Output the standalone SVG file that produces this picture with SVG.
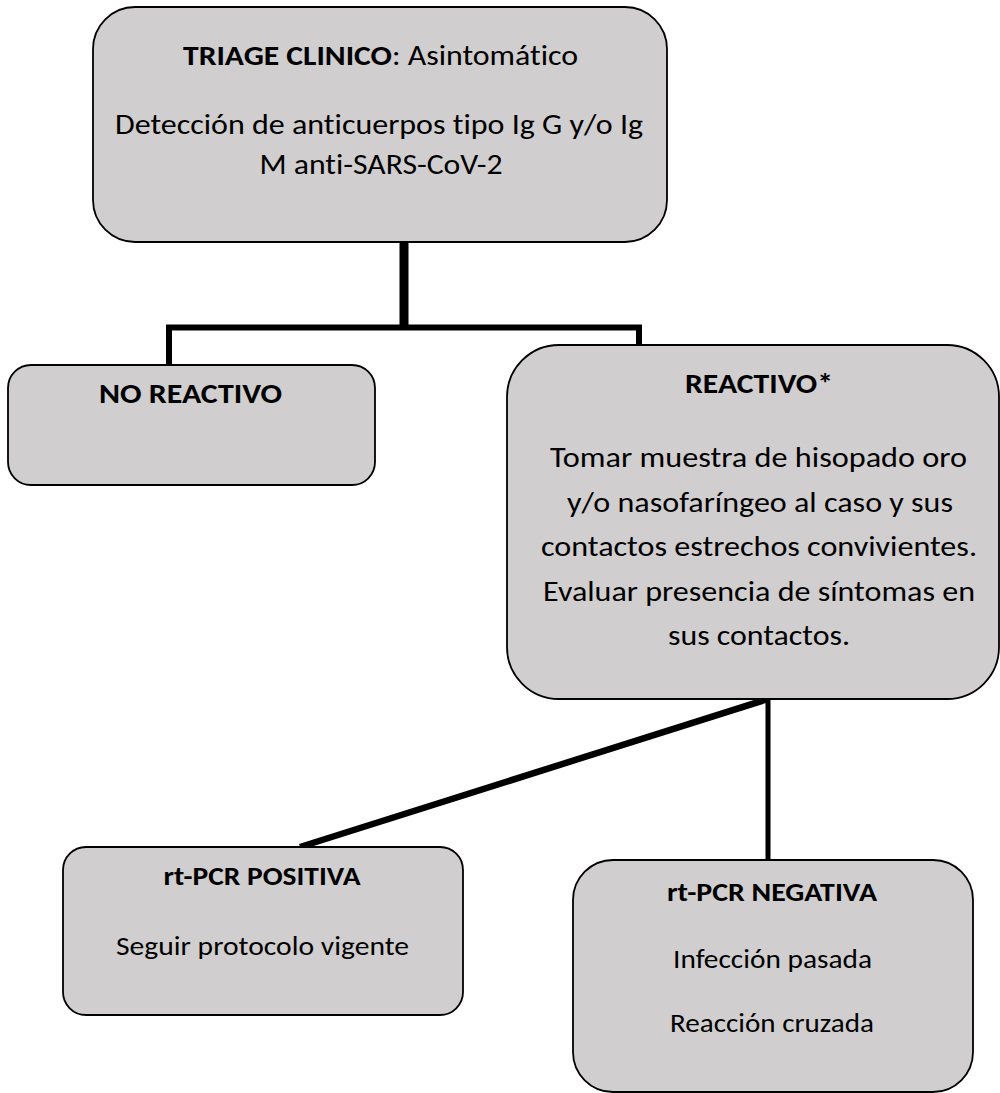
<svg xmlns="http://www.w3.org/2000/svg" width="1000" height="1093" viewBox="0 0 1000 1093">
  <style>
    .box { fill: #D0CECE; stroke: #000; stroke-width: 1.8; }
    .t { font-family: Carlito, Lato, "Liberation Sans", sans-serif; fill: #000; font-variant-ligatures: none; }
    .big { font-size: 28.4px; }
    .small { font-size: 26.2px; }
    .b { font-weight: bold; }
    .c { text-anchor: middle; }
    .conn { fill: none; stroke: #000; stroke-linecap: butt; stroke-linejoin: miter; }
  </style>
  <rect x="0" y="0" width="1000" height="1093" fill="#FFFFFF"/>

  <g id="connectors">
    <line class="conn" x1="404" y1="242" x2="404" y2="330" stroke-width="9"/>
    <polyline class="conn" points="169,365 169,327.5 639,327.5 639,345" stroke-width="6"/>
    <line class="conn" x1="768" y1="699" x2="300" y2="847" stroke-width="6.5"/>
    <line class="conn" x1="768" y1="699" x2="768" y2="860" stroke-width="5"/>
  </g>

  <g id="triage">
    <rect class="box" x="93" y="7" width="574" height="235" rx="42" ry="42"/>
    <text class="t big b" x="183" y="65" textLength="209" lengthAdjust="spacingAndGlyphs">TRIAGE CLINICO</text>
    <text class="t big" x="392" y="65" textLength="186" lengthAdjust="spacingAndGlyphs">: Asintomático</text>
    <text class="t big c" x="379" y="134" textLength="528" lengthAdjust="spacingAndGlyphs">Detección de anticuerpos tipo Ig G y/o Ig</text>
    <text class="t big c" x="381" y="174" textLength="243" lengthAdjust="spacingAndGlyphs">M anti-SARS-CoV-2</text>
  </g>

  <g id="no-reactivo">
    <rect class="box" x="8" y="365" width="367" height="120" rx="23" ry="23"/>
    <text class="t big b c" x="190.5" y="403" textLength="183" lengthAdjust="spacingAndGlyphs">NO REACTIVO</text>
  </g>

  <g id="reactivo">
    <rect class="box" x="507" y="345" width="492" height="354" rx="52" ry="52"/>
    <text class="t big b c" x="759" y="393" textLength="148" lengthAdjust="spacingAndGlyphs">REACTIVO*</text>
    <text class="t big c" x="758.5" y="467" textLength="417" lengthAdjust="spacingAndGlyphs">Tomar muestra de hisopado oro</text>
    <text class="t big c" x="760" y="511.5" textLength="386" lengthAdjust="spacingAndGlyphs">y/o nasofaríngeo al caso y sus</text>
    <text class="t big c" x="759" y="556" textLength="436" lengthAdjust="spacingAndGlyphs">contactos estrechos convivientes.</text>
    <text class="t big c" x="759" y="600.5" textLength="432" lengthAdjust="spacingAndGlyphs">Evaluar presencia de síntomas en</text>
    <text class="t big c" x="759" y="645" textLength="182" lengthAdjust="spacingAndGlyphs">sus contactos.</text>
  </g>

  <g id="rt-pcr-positiva">
    <rect class="box" x="63" y="847" width="400" height="168" rx="23" ry="23"/>
    <text class="t small b c" x="262" y="885" textLength="197" lengthAdjust="spacingAndGlyphs">rt-PCR POSITIVA</text>
    <text class="t small c" x="262.5" y="955" textLength="293" lengthAdjust="spacingAndGlyphs">Seguir protocolo vigente</text>
  </g>

  <g id="rt-pcr-negativa">
    <rect class="box" x="573" y="860" width="400" height="232" rx="40" ry="40"/>
    <text class="t small b c" x="772" y="901" textLength="210" lengthAdjust="spacingAndGlyphs">rt-PCR NEGATIVA</text>
    <text class="t small c" x="772.5" y="968" textLength="199" lengthAdjust="spacingAndGlyphs">Infección pasada</text>
    <text class="t small c" x="772" y="1032" textLength="204" lengthAdjust="spacingAndGlyphs">Reacción cruzada</text>
  </g>
</svg>
